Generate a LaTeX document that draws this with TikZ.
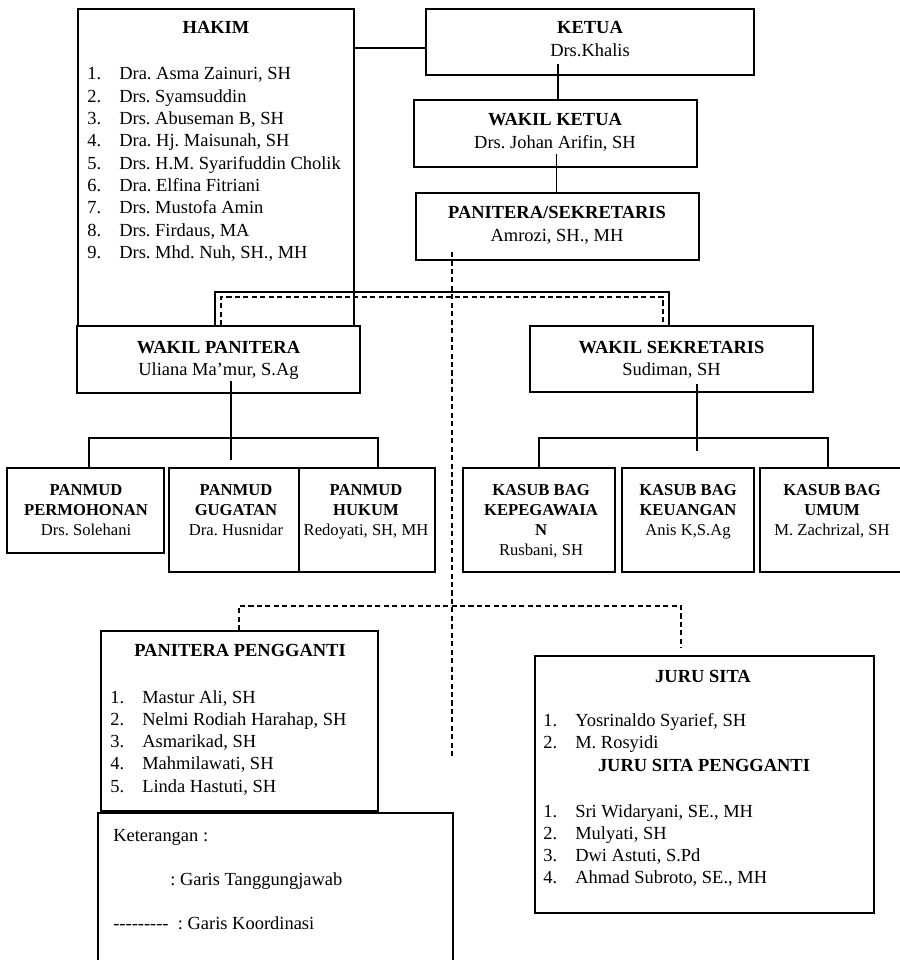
\documentclass[tikz,border=0pt]{standalone}
\usepackage{fontspec}
\setmainfont{Liberation Serif}
\usepackage{tikz}
\usetikzlibrary{positioning, calc, fit}

\newcommand{\stackrows}[2][c]{\begin{tabular}[t]{@{}#1@{}}#2\end{tabular}}
\newcommand{\itemno}[1]{\makebox[20.8pt][l]{#1}}
\frenchspacing

\begin{document}
\begin{tikzpicture}[
    x=0.65pt, y=-0.65pt,
    box/.style={rectangle, draw, line width=0.8pt, inner sep=0pt},
    txt/.style={inner sep=0pt, anchor=base, font=\fontsize{12}{14.5}\selectfont},
    ltxt/.style={txt, anchor=base west},
    stxt/.style={txt, font=\fontsize{10.8}{13}\selectfont},
    conn/.style={line width=0.8pt},
    dconn/.style={line width=0.8pt, dash pattern=on 3.3pt off 2.2pt}
]
\useasboundingbox (0,0) rectangle (899,960);

\node[box, fit={(78,9) (354,326)}] (hakim) {};
\node[box, fit={(426,9) (754,75)}] (ketua) {};
\node[box, fit={(414,100) (697,167)}] (wketua) {};
\node[box, fit={(416,193) (699,260)}] (panitera) {};
\node[box, fit={(77,326) (360,393)}] (wpanitera) {};
\node[box, fit={(530,326) (813,392)}] (wsekretaris) {};
\node[box, fit={(7,468) (164,553)}] (permohonan) {};
\node[box, fit={(169,468) (299,572)}] (gugatan) {};
\node[box, fit={(299,468) (435,572)}] (hukum) {};
\node[box, fit={(463,468) (615,572)}] (kepegawaian) {};
\node[box, fit={(622,468) (754,572)}] (keuangan) {};
\node[box, fit={(760,468) (905,572)}] (umum) {};
\node[box, fit={(101,631) (378,811)}] (pengganti) {};
\node[box, fit={(98,813) (453,975)}] (keterangan) {};
\node[box, fit={(535,656) (874,913)}] (jurusita) {};

\node[txt] (hakimT) at (216,34) {\textbf{HAKIM}};
\node[ltxt] (hakimL) at (87,80) {\stackrows[l]{\itemno{1.}Dra. Asma Zainuri, SH\\ \itemno{2.}Drs. Syamsuddin\\ \itemno{3.}Drs. Abuseman B, SH\\ \itemno{4.}Dra. Hj. Maisunah, SH\\ \itemno{5.}Drs. H.M. Syarifuddin Cholik\\ \itemno{6.}Dra. Elfina Fitriani\\ \itemno{7.}Drs. Mustofa Amin\\ \itemno{8.}Drs. Firdaus, MA\\ \itemno{9.}Drs. Mhd. Nuh, SH., MH}};
\node[txt] (ketuaT) at (590,34) {\stackrows{\textbf{KETUA}\\Drs.Khalis}};
\node[txt] (wketuaT) at (555,126) {\stackrows{\textbf{WAKIL KETUA}\\Drs. Johan Arifin, SH}};
\node[txt] (paniteraT) at (557,219) {\stackrows{\textbf{PANITERA/SEKRETARIS}\\Amrozi, SH., MH}};
\node[txt] (wpaniteraT) at (218.5,353) {\stackrows{\textbf{WAKIL PANITERA}\\Uliana Ma’mur, S.Ag}};
\node[txt] (wsekretarisT) at (671.5,353) {\stackrows{\textbf{WAKIL SEKRETARIS}\\Sudiman, SH}};
\node[stxt] (permohonanT) at (86,495) {\stackrows{\textbf{PANMUD}\\\textbf{PERMOHONAN}\\Drs. Solehani}};
\node[stxt] (gugatanT) at (236,495) {\stackrows{\textbf{PANMUD}\\\textbf{GUGATAN}\\Dra. Husnidar}};
\node[stxt] (hukumT) at (366,495) {\stackrows{\textbf{PANMUD}\\\textbf{HUKUM}\\Redoyati, SH, MH}};
\node[stxt] (kepegawaianT) at (541,495) {\stackrows{\textbf{KASUB BAG}\\\textbf{KEPEGAWAIA}\\\textbf{N}\\Rusbani, SH}};
\node[stxt] (keuanganT) at (688,495) {\stackrows{\textbf{KASUB BAG}\\\textbf{KEUANGAN}\\Anis K,S.Ag}};
\node[stxt] (umumT) at (832,495) {\stackrows{\textbf{KASUB BAG}\\\textbf{UMUM}\\M. Zachrizal, SH}};
\node[txt] (penggantiT) at (240,656) {\textbf{PANITERA PENGGANTI}};
\node[ltxt] (penggantiL) at (110,703) {\stackrows[l]{\itemno{1.}Mastur Ali, SH\\ \itemno{2.}Nelmi Rodiah Harahap, SH\\ \itemno{3.}Asmarikad, SH\\ \itemno{4.}Mahmilawati, SH\\ \itemno{5.}Linda Hastuti, SH}};
\node[ltxt] (keteranganT) at (113,841) {Keterangan :};
\node[ltxt] (tanggungjawab) at (170,885) {: Garis Tanggungjawab};
\node[ltxt] (koordinasi) at (113,929) {-{}-{}-{}-{}-{}-{}-{}-{}-\ \ : Garis Koordinasi};
\node[txt] (jurusitaT) at (703,682) {\textbf{JURU SITA}};
\node[ltxt] (jurusitaL) at (543,726) {\stackrows[l]{\itemno{1.}Yosrinaldo Syarief, SH\\ \itemno{2.}M. Rosyidi}};
\node[txt] (jspT) at (704,771) {\textbf{JURU SITA PENGGANTI}};
\node[ltxt] (jspL) at (543,817) {\stackrows[l]{\itemno{1.}Sri Widaryani, SE., MH\\ \itemno{2.}Mulyati, SH\\ \itemno{3.}Dwi Astuti, S.Pd\\ \itemno{4.}Ahmad Subroto, SE., MH}};

\coordinate (sbarL) at (215,292);
\coordinate (sbarR) at (669,292);
\coordinate (dbarL) at (221,297);
\coordinate (dbarR) at (663,297);
\coordinate (pbarL) at (89,438);
\coordinate (pbarR) at (378,438);
\coordinate (kbarL) at (539,438);
\coordinate (kbarR) at (828,438);
\coordinate (ctop) at (452,252);
\coordinate (cbot) at (452,758);
\coordinate (cbarL) at (239,606);
\coordinate (cbarR) at (681,606);

\draw[conn] ($(ketua.west)+(0,6)$) -- ($(ketua.west -| hakim.east)+(0,6)$);
\draw[conn] ($(wketua.north)+(2.5,0)$) -- ($(wketua.north |- ketua.south)+(2.5,-12)$);
\draw[conn] ($(panitera.north)+(-1,0)$) -- ($(panitera.north |- wketua.south)+(-1,-14)$);
\draw[conn] (sbarL |- wpanitera.north) -- (sbarL) -- (sbarR) -- (sbarR |- wsekretaris.north);
\draw[dconn] (dbarL |- wpanitera.north) -- (dbarL) -- (dbarR) -- (dbarR |- wsekretaris.north);
\draw[conn] ($(wpanitera.south)+(12.5,-13)$) -- ($(gugatan.north)+(-3,-7)$);
\draw[conn] (pbarL |- permohonan.north) -- (pbarL) -- (pbarR) -- (pbarR |- hukum.north);
\draw[conn] ($(wsekretaris.south)+(25.5,-9)$) -- ($(wsekretaris.south)+(25.5,58)$);
\draw[conn] (kbarL |- kepegawaian.north) -- (kbarL) -- (kbarR) -- (kbarR |- umum.north);
\draw[dconn] (ctop) -- (cbot);
\draw[dconn] (cbarL |- pengganti.north) -- (cbarL) -- (cbarR) -- ($(cbarR |- jurusita.north)+(0,-7)$);
\end{tikzpicture}
\end{document}
